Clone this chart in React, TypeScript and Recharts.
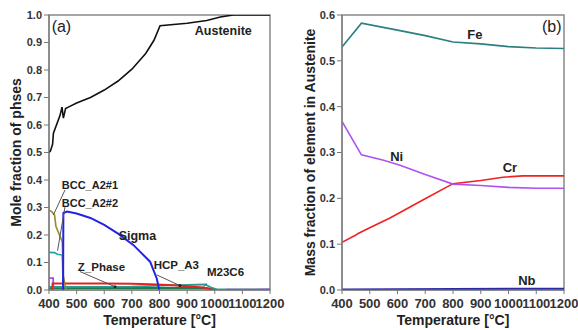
import { LineChart, Line, XAxis, YAxis, ReferenceArea, ReferenceLine, ReferenceDot } from 'recharts';

type Pt = [number, number];

const tempTicks = [400, 500, 600, 700, 800, 900, 1000, 1100, 1200];
const phaseTicks = [0, 0.1, 0.2, 0.3, 0.4, 0.5, 0.6, 0.7, 0.8, 0.9, 1.0];
const massTicks = [0, 0.1, 0.2, 0.3, 0.4, 0.5, 0.6];

// (a) phase fractions vs temperature
const austenite: Pt[] = [
  [400, 0.5], [405, 0.505], [413, 0.53], [416, 0.57], [440, 0.635], [447, 0.665],
  [452, 0.625], [460, 0.66], [470, 0.665], [500, 0.68], [550, 0.7], [600, 0.727],
  [650, 0.76], [700, 0.803], [750, 0.86], [780, 0.908], [802, 0.961], [900, 0.97],
  [971, 0.98], [1020, 0.993], [1067, 1.0], [1200, 1.0],
];
const sigma: Pt[] = [
  [451, 0], [452, 0.28], [465, 0.285], [500, 0.278], [550, 0.262], [600, 0.237],
  [650, 0.205], [705, 0.164], [766, 0.103], [790, 0.042], [799, 0],
];
const bccA2n1: Pt[] = [
  [400, 0.29], [410, 0.285], [420, 0.273], [425, 0.232], [448, 0.176], [452, 0.05], [462, 0],
];
const bccA2n2: Pt[] = [
  [400, 0.137], [420, 0.136], [430, 0.13], [448, 0.127], [452, 0.0],
];
const zPhase: Pt[] = [
  [400, 0.007], [700, 0.007], [970, 0.007], [1000, 0.001], [1200, 0.001],
];
const m23c6: Pt[] = [
  [400, 0.011], [700, 0.012], [838, 0.017], [965, 0.02], [985, 0.01], [1007, 0.002], [1200, 0.001],
];
const hcpA3: Pt[] = [
  [412, 0], [413, 0.024], [600, 0.024], [700, 0.023], [766, 0.021], [850, 0.017],
  [900, 0.014], [958, 0.009], [985, 0.002], [1000, 0],
];
const purplePhase: Pt[] = [
  [400, 0.043], [415, 0.043], [416, 0.0],
];
const purpleHigh: Pt[] = [
  [1040, 0.001], [1200, 0.002],
];

// (b) austenite composition
const fe: Pt[] = [
  [400, 0.53], [470, 0.582], [600, 0.567], [700, 0.555], [800, 0.541], [900, 0.537],
  [1000, 0.531], [1100, 0.528], [1200, 0.527],
];
const ni: Pt[] = [
  [400, 0.368], [470, 0.295], [550, 0.283], [609, 0.272], [700, 0.252], [800, 0.231],
  [900, 0.228], [1000, 0.224], [1100, 0.222], [1200, 0.222],
];
const cr: Pt[] = [
  [400, 0.104], [450, 0.12], [460, 0.124], [500, 0.136], [573, 0.157], [693, 0.197],
  [800, 0.232], [900, 0.239], [980, 0.246], [1050, 0.249], [1200, 0.249],
];
const nb: Pt[] = [
  [400, 0.001], [800, 0.002], [1200, 0.003],
];

const FONT = '"Liberation Sans", Arial, sans-serif';
const rows = (pts: Pt[]) => pts.map(([t, v]) => ({ t, v }));

const tickStyle = { fontFamily: FONT, fontWeight: 700, fill: '#333' };

function series(pts: Pt[], color: string, width = 1.6) {
  return (
    <Line
      data={rows(pts)}
      dataKey="v"
      type="linear"
      stroke={color}
      strokeWidth={width}
      dot={false}
      activeDot={false}
      isAnimationActive={false}
    />
  );
}

function note(key: string, x: number, y: number, text: string, size = 12, weight = 700) {
  return (
    <ReferenceDot
      key={key}
      x={x}
      y={y}
      r={0}
      fill="none"
      stroke="none"
      ifOverflow="visible"
      label={{
        value: text,
        position: 'center',
        fill: '#222',
        fontSize: size,
        fontWeight: weight,
        fontFamily: FONT,
      }}
    />
  );
}

function leader(key: string, x1: number, y1: number, x2: number, y2: number) {
  return (
    <ReferenceLine
      key={key}
      segment={[{ x: x1, y: y1 }, { x: x2, y: y2 }]}
      stroke="#555"
      strokeWidth={1}
      ifOverflow="visible"
    />
  );
}

function xAxis() {
  return (
    <XAxis
      dataKey="t"
      type="number"
      domain={[400, 1200]}
      ticks={tempTicks}
      interval={0}
      allowDataOverflow
      height={40}
      stroke="#777"
      tickSize={4}
      tickMargin={5}
      tick={{ ...tickStyle, fontSize: 13 }}
      label={{
        value: 'Temperature [°C]',
        position: 'insideBottom',
        offset: 5,
        style: { fontFamily: FONT, fontWeight: 700, fontSize: 14, fill: '#222' },
      }}
    />
  );
}

function PhaseChart() {
  return (
    <LineChart width={290} height={330} margin={{ top: 15, right: 20, bottom: 0, left: 0 }}>
      {xAxis()}
      <YAxis
        type="number"
        domain={[0, 1]}
        ticks={phaseTicks}
        allowDataOverflow
        width={49}
        stroke="#777"
        tickSize={5}
        tick={{ ...tickStyle, fontSize: 11 }}
        tickFormatter={(v: number) => v.toFixed(1)}
        label={{
          value: 'Mole fraction of phses',
          angle: -90,
          position: 'insideLeft',
          offset: 16,
          style: { textAnchor: 'middle', fontFamily: FONT, fontWeight: 700, fontSize: 14, fill: '#222' },
        }}
      />
      <ReferenceArea x1={400} x2={1200} y1={0} y2={1} fill="none" stroke="#888" strokeWidth={1.5} />
      {series(zPhase, '#1f7a4c', 2)}
      {series(m23c6, '#2b9c8c', 1.8)}
      {series(purpleHigh, '#9b3fe0', 1.8)}
      {series(purplePhase, '#a24ce8', 1.8)}
      {series(hcpA3, '#e52222', 2)}
      {series(bccA2n2, '#1fa2a2', 1.6)}
      {series(bccA2n1, '#9a8a2e', 1.6)}
      {series(sigma, '#2323e6', 2)}
      {series(austenite, '#111', 1.6)}
      {leader('l1', 416, 0.273, 458, 0.364)}
      {leader('l2', 431, 0.143, 458, 0.303)}
      {leader('l3', 512, 0.067, 639, 0.012)}
      {leader('l4', 790, 0.055, 874, 0.016)}
      {leader('l5', 953, 0.004, 971, 0.024)}
      <ReferenceDot x={639} y={0.012} r={1.5} fill="#222" stroke="none" />
      <ReferenceDot x={874} y={0.016} r={1.5} fill="#222" stroke="none" />
      {note('a', 445, 0.958, '(a)', 16, 400)}
      {note('aus', 1031, 0.945, 'Austenite', 12.5)}
      {note('b1', 548, 0.382, 'BCC_A2#1', 11)}
      {note('b2', 548, 0.316, 'BCC_A2#2', 11)}
      {note('sig', 720, 0.197, 'Sigma', 12.5)}
      {note('z', 590, 0.085, 'Z_Phase', 11.5)}
      {note('hcp', 861, 0.091, 'HCP_A3', 11.5)}
      {note('m23', 1039, 0.065, 'M23C6', 11.5)}
    </LineChart>
  );
}

function CompositionChart() {
  return (
    <LineChart width={288} height={330} margin={{ top: 15, right: 14, bottom: 0, left: 0 }}>
      {xAxis()}
      <YAxis
        type="number"
        domain={[0, 0.6]}
        ticks={massTicks}
        allowDataOverflow
        width={52}
        stroke="#777"
        tickSize={5}
        tick={{ ...tickStyle, fontSize: 11 }}
        tickFormatter={(v: number) => v.toFixed(1)}
        label={{
          value: 'Mass fraction of element in Austenite',
          angle: -90,
          position: 'insideLeft',
          offset: 20,
          style: { textAnchor: 'middle', fontFamily: FONT, fontWeight: 700, fontSize: 14, fill: '#222' },
        }}
      />
      <ReferenceArea x1={400} x2={1200} y1={0} y2={0.6} fill="none" stroke="#888" strokeWidth={1.5} />
      {series(nb, '#2a2aa8', 2)}
      {series(cr, '#ee2222', 1.6)}
      {series(ni, '#b052f2', 1.6)}
      {series(fe, '#2a7f7f', 1.6)}
      {note('b', 1156, 0.575, '(b)', 16, 400)}
      {note('fe', 879, 0.558, 'Fe', 13)}
      {note('ni', 597, 0.291, 'Ni', 13)}
      {note('cr', 1005, 0.267, 'Cr', 13)}
      {note('nb', 1066, 0.022, 'Nb', 13)}
    </LineChart>
  );
}

export default function App() {
  return (
    <div style={{ position: 'absolute', left: 0, top: 0, width: 578, height: 330, display: 'flex', background: '#fff' }}>
      <PhaseChart />
      <CompositionChart />
    </div>
  );
}
